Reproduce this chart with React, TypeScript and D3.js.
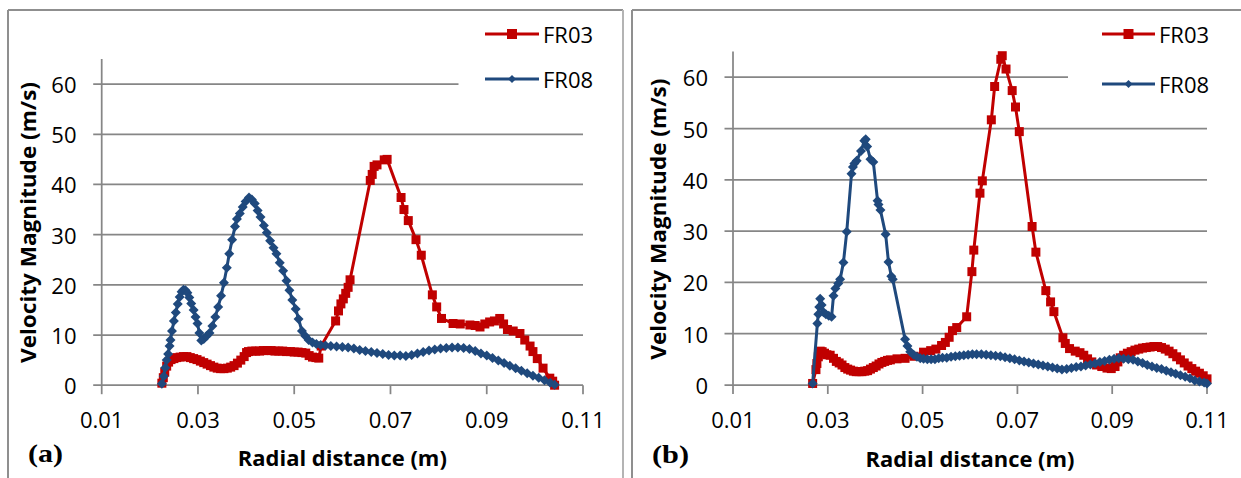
import React from "react";
import * as d3 from "d3";

// ---------- data ----------
const xTickValues = [0.01, 0.03, 0.05, 0.07, 0.09, 0.11];
const yTickValues = [0, 10, 20, 30, 40, 50, 60];
const seriesNames = ["FR03", "FR08"];
const panelLabels = ["(a)", "(b)"];

// Panel (a)
const aFR03: [number, number][] = [
  [0.0225, 0.4], [0.0228, 1.5], [0.0231, 2.6], [0.0235, 3.8], [0.0239, 4.6], [0.0244, 5.1], [0.025, 5.3],
  [0.0256, 5.5], [0.0263, 5.6], [0.027, 5.7], [0.0277, 5.7], [0.0284, 5.5], [0.0291, 5.3], [0.0298, 5.1],
  [0.0305, 4.8], [0.0312, 4.5], [0.0319, 4.2], [0.0326, 3.9], [0.0333, 3.6], [0.034, 3.4], [0.0347, 3.3],
  [0.0354, 3.3], [0.0361, 3.4], [0.0368, 3.6], [0.0375, 3.9], [0.0382, 4.4], [0.0389, 5.0], [0.0396, 5.7],
  [0.0401, 6.5], [0.0405, 6.7], [0.0412, 6.8], [0.042, 6.8], [0.0428, 6.8], [0.0436, 6.9], [0.0444, 6.9],
  [0.0452, 6.9], [0.046, 6.8], [0.0468, 6.8], [0.0476, 6.8], [0.0484, 6.7], [0.0492, 6.7], [0.05, 6.6],
  [0.0508, 6.6], [0.0516, 6.5], [0.0524, 6.4], [0.0531, 5.9], [0.0538, 5.6], [0.0545, 5.5], [0.0551, 5.4],
  [0.0556, 7.8], [0.0586, 12.8], [0.0592, 14.8], [0.0597, 16.2], [0.0602, 17.2], [0.0607, 18.3],
  [0.0612, 19.5], [0.0616, 21.0], [0.0658, 40.8], [0.0662, 42.0], [0.0666, 43.6], [0.0672, 43.9],
  [0.0687, 44.9], [0.0693, 45.0], [0.0722, 37.4], [0.0728, 35.0], [0.0737, 32.8], [0.0753, 29.0],
  [0.0764, 25.9], [0.0787, 18.0], [0.0796, 15.6], [0.0806, 13.3], [0.083, 12.3], [0.0845, 12.2],
  [0.0865, 12.0], [0.0876, 11.9], [0.0886, 11.6], [0.0896, 12.2], [0.0906, 12.6], [0.0916, 12.8],
  [0.0927, 13.3], [0.0935, 12.2], [0.0943, 11.1], [0.0955, 10.8], [0.0969, 10.3], [0.0979, 9.0],
  [0.099, 7.8], [0.0996, 6.7], [0.1005, 5.3], [0.1017, 3.4], [0.1031, 1.4], [0.1037, 0.8], [0.1041, 0.0],
];
const aFR08: [number, number][] = [
  [0.0225, 0.3], [0.0229, 1.8], [0.0232, 3.5], [0.0235, 5.0], [0.0238, 6.2], [0.0241, 7.8], [0.0243, 9.0],
  [0.0246, 10.8], [0.025, 12.8], [0.0254, 14.5], [0.0258, 16.2], [0.0262, 17.6], [0.0266, 18.6],
  [0.027, 19.0], [0.0274, 18.9], [0.0278, 18.4], [0.0282, 17.5], [0.0286, 16.3], [0.0291, 15.0],
  [0.0295, 13.6], [0.0299, 12.3], [0.0303, 10.4], [0.0307, 8.9], [0.0312, 9.2], [0.0318, 9.8],
  [0.0324, 10.4], [0.033, 11.8], [0.0336, 13.6], [0.0342, 15.6], [0.0348, 17.8], [0.0354, 20.4],
  [0.036, 23.4], [0.0365, 26.2], [0.0371, 29.0], [0.0377, 31.6], [0.0381, 33.1], [0.0387, 34.2],
  [0.0393, 35.5], [0.0399, 36.6], [0.0406, 37.4], [0.0412, 37.0], [0.0418, 36.2], [0.0424, 34.8],
  [0.043, 33.5], [0.0437, 31.8], [0.0443, 30.4], [0.045, 28.8], [0.0457, 27.4], [0.0463, 26.2],
  [0.047, 24.4], [0.0477, 22.8], [0.0484, 20.8], [0.049, 18.9], [0.0496, 17.0], [0.0503, 15.2],
  [0.0509, 13.2], [0.0516, 10.8], [0.0523, 9.8], [0.053, 9.0], [0.0538, 8.5], [0.0546, 8.2], [0.0555, 8.0],
  [0.0565, 7.9], [0.0576, 7.8], [0.0588, 7.7], [0.06, 7.6], [0.0612, 7.5], [0.0624, 7.3], [0.0636, 7.0],
  [0.0648, 6.8], [0.066, 6.6], [0.0672, 6.4], [0.0684, 6.2], [0.0696, 6.0], [0.0708, 5.9], [0.072, 5.9],
  [0.0732, 5.8], [0.0744, 6.0], [0.0756, 6.3], [0.0768, 6.6], [0.078, 6.9], [0.0792, 7.1], [0.0804, 7.3],
  [0.0816, 7.4], [0.0828, 7.5], [0.084, 7.5], [0.0852, 7.4], [0.0864, 7.2], [0.0876, 6.8], [0.0888, 6.3],
  [0.09, 5.9], [0.0912, 5.4], [0.0924, 4.9], [0.0936, 4.4], [0.0948, 3.9], [0.096, 3.4], [0.0972, 2.9],
  [0.0984, 2.4], [0.0996, 1.9], [0.1008, 1.5], [0.102, 1.0], [0.1032, 0.5], [0.1041, 0.1],
];

// Panel (b)
const bFR03: [number, number][] = [
  [0.0268, 0.3], [0.0275, 3.0], [0.0277, 4.2], [0.028, 5.5], [0.0284, 6.6], [0.0288, 6.5], [0.0293, 6.2],
  [0.0298, 5.9], [0.0305, 5.8], [0.0312, 5.2], [0.0318, 4.6], [0.0324, 4.3], [0.033, 3.9], [0.0336, 3.4],
  [0.0342, 3.1], [0.0348, 2.9], [0.0354, 2.7], [0.036, 2.6], [0.0366, 2.6], [0.0372, 2.6], [0.0378, 2.7],
  [0.0384, 2.8], [0.039, 3.1], [0.0396, 3.4], [0.0402, 3.7], [0.0408, 4.1], [0.0414, 4.4], [0.042, 4.6],
  [0.0426, 4.8], [0.0432, 4.9], [0.0446, 5.1], [0.0463, 5.2], [0.0482, 5.6], [0.0502, 6.4], [0.0517, 6.7],
  [0.0528, 7.0], [0.054, 7.7], [0.0548, 8.3], [0.0556, 9.3], [0.0563, 10.6], [0.0572, 11.2], [0.0593, 13.3],
  [0.0604, 22.1], [0.0608, 26.3], [0.0621, 37.4], [0.0626, 39.8], [0.0645, 51.7], [0.0652, 58.2],
  [0.0665, 63.5], [0.0668, 64.2], [0.0676, 61.6], [0.0689, 57.4], [0.0696, 54.2], [0.0704, 49.4],
  [0.0731, 30.9], [0.0739, 25.9], [0.076, 18.4], [0.077, 16.2], [0.0777, 14.3], [0.0796, 9.2], [0.0801, 8.1],
  [0.081, 7.1], [0.0822, 6.6], [0.0832, 6.3], [0.084, 5.8], [0.0848, 5.1], [0.0857, 4.5], [0.0867, 3.9],
  [0.0878, 3.6], [0.0889, 3.3], [0.0898, 3.2], [0.0906, 3.6], [0.0912, 4.5], [0.0917, 5.3], [0.0924, 5.8],
  [0.0932, 6.2], [0.094, 6.5], [0.0948, 6.8], [0.0956, 7.0], [0.0964, 7.2], [0.0972, 7.3], [0.098, 7.4],
  [0.0988, 7.5], [0.0996, 7.5], [0.1004, 7.3], [0.1012, 7.0], [0.102, 6.6], [0.1028, 6.1], [0.1036, 5.5],
  [0.1044, 4.9], [0.1052, 4.3], [0.106, 3.7], [0.1068, 3.2], [0.1076, 2.7], [0.1084, 2.3], [0.1092, 1.8],
  [0.11, 1.2],
];
const bFR08: [number, number][] = [
  [0.0268, 0.3], [0.0278, 12.0], [0.028, 13.8], [0.0282, 15.2], [0.0284, 16.8], [0.0287, 15.6],
  [0.0291, 14.2], [0.0296, 13.8], [0.0302, 13.5], [0.0308, 13.3], [0.0312, 17.4], [0.0316, 18.8],
  [0.0322, 19.8], [0.0326, 20.6], [0.0333, 23.9], [0.034, 29.9], [0.035, 41.2], [0.0353, 42.5],
  [0.0356, 43.2], [0.0361, 43.7], [0.037, 45.6], [0.0377, 47.6], [0.038, 47.9], [0.0383, 46.5],
  [0.039, 44.0], [0.0396, 43.5], [0.0405, 35.9], [0.0407, 35.2], [0.0411, 34.1], [0.0422, 29.4],
  [0.0428, 24.0], [0.0434, 21.2], [0.0437, 20.6], [0.0463, 8.9], [0.0468, 7.6], [0.0474, 6.5],
  [0.0481, 5.9], [0.0488, 5.5], [0.0495, 5.2], [0.0502, 5.1], [0.051, 5.0], [0.0518, 5.0], [0.0526, 5.0],
  [0.0534, 5.2], [0.0542, 5.3], [0.0551, 5.3], [0.056, 5.5], [0.0569, 5.6], [0.0578, 5.7], [0.0587, 5.8],
  [0.0596, 5.9], [0.0605, 6.0], [0.0614, 6.0], [0.0624, 6.0], [0.0634, 5.9], [0.0644, 5.8], [0.0654, 5.7],
  [0.0664, 5.6], [0.0674, 5.4], [0.0684, 5.2], [0.0694, 5.0], [0.0704, 4.8], [0.0714, 4.6], [0.0724, 4.4],
  [0.0734, 4.2], [0.0744, 4.0], [0.0754, 3.8], [0.0764, 3.6], [0.0774, 3.4], [0.0784, 3.2], [0.0794, 3.0],
  [0.0804, 3.1], [0.0814, 3.3], [0.0824, 3.5], [0.0834, 3.6], [0.0844, 3.8], [0.0854, 4.0], [0.0864, 4.2],
  [0.0874, 4.5], [0.0884, 4.7], [0.0894, 4.9], [0.0904, 5.1], [0.0914, 5.2], [0.0924, 5.1], [0.0934, 5.0],
  [0.0944, 4.9], [0.0954, 4.6], [0.0964, 4.3], [0.0974, 3.9], [0.0984, 3.6], [0.0994, 3.3], [0.1004, 3.1],
  [0.1014, 2.8], [0.1024, 2.5], [0.1034, 2.2], [0.1044, 1.9], [0.1054, 1.6], [0.1064, 1.3], [0.1074, 0.9],
  [0.1084, 0.7], [0.1094, 0.5], [0.11, 0.3],
];

// ---------- styling / layout ----------
const RED = "#C00000";
const BLUE = "#1F497D";
const GRID = "#868686";
const FONT = "'Open Sans', 'Noto Sans', sans-serif";
const SERIF = "'Liberation Serif', 'DejaVu Serif', serif";

type PanelCfg = {
  frameL: number; frameR: number; frameRColor: string;
  x0: number; x1: number; yTop: number; yBottom: number;
  coverX: number; legLine0: number; legLine1: number; legText: number; legY: [number, number];
  yTitleX: number; yTitleY: number; xTitleY: number; tickLabelRight: number;
  labelX: number; labelY: number; labelLen: number;
};

const panels: PanelCfg[] = [
  {
    frameL: 8, frameR: 623, frameRColor: "#b4b4b4",
    x0: 101.7, x1: 583, yTop: 59, yBottom: 385.2,
    coverX: 458.5, legLine0: 485, legLine1: 539, legText: 543, legY: [34, 79],
    yTitleX: 35.5, yTitleY: 222.5, xTitleY: 466, tickLabelRight: 76.5,
    labelX: 28, labelY: 462, labelLen: 35,
  },
  {
    frameL: 632, frameR: 1245, frameRColor: "#8f8f8f",
    x0: 733, x1: 1207, yTop: 51.6, yBottom: 385,
    coverX: 1068, legLine0: 1102, legLine1: 1155, legText: 1159, legY: [34, 84],
    yTitleX: 665.5, yTitleY: 219.2, xTitleY: 467, tickLabelRight: 708,
    labelX: 652, labelY: 463, labelLen: 37,
  },
];

const square = (cx: number, cy: number, s: number) =>
  `M${cx - s / 2},${cy - s / 2}h${s}v${s}h${-s}Z`;
const diamond = (cx: number, cy: number, r: number) =>
  `M${cx},${cy - r}L${cx + r},${cy}L${cx},${cy + r}L${cx - r},${cy}Z`;

function Panel({ cfg, red, blue, label }: { cfg: PanelCfg; red: [number, number][]; blue: [number, number][]; label: string }) {
  const x = d3.scaleLinear().domain([0.01, 0.11]).range([cfg.x0, cfg.x1]);
  const y = d3.scaleLinear().domain([0, 65]).range([cfg.yBottom, cfg.yTop]);
  const line = d3.line<[number, number]>().x((d) => x(d[0])).y((d) => y(d[1]));
  const legendCenter = (cfg.legLine0 + cfg.legLine1) / 2;
  return (
    <g>
      {/* frame */}
      <line x1={cfg.frameL} x2={cfg.frameL} y1={10} y2={480} stroke="#8f8f8f" strokeWidth={2} />
      <line x1={cfg.frameL} x2={cfg.frameR} y1={10} y2={10} stroke="#8f8f8f" strokeWidth={2} />
      <line x1={cfg.frameR} x2={cfg.frameR} y1={10} y2={480} stroke={cfg.frameRColor} strokeWidth={2} />
      {/* gridlines + y ticks */}
      {yTickValues.map((t) => (
        <g key={t}>
          <line x1={cfg.x0 - 8.5} x2={cfg.x1} y1={y(t)} y2={y(t)} stroke={GRID} strokeWidth={1.75} />
          <text x={cfg.tickLabelRight} y={y(t)} textAnchor="end" dominantBaseline="central"
            fontFamily={FONT} fontSize={22} fill="#000">{t}</text>
        </g>
      ))}
      {/* legend background covering the gridline */}
      <rect x={cfg.coverX} y={12} width={cfg.frameR - cfg.coverX - 2} height={92} fill="#fff" />
      {/* axes */}
      <line x1={cfg.x0} x2={cfg.x0} y1={y(65)} y2={y(0)} stroke={GRID} strokeWidth={1.75} />
      {xTickValues.map((t) => (
        <g key={t}>
          <line x1={x(t)} x2={x(t)} y1={y(0)} y2={y(0) + 9} stroke={GRID} strokeWidth={1.75} />
          <text x={x(t)} y={419} textAnchor="middle" dominantBaseline="central"
            fontFamily={FONT} fontSize={22} fill="#000">{t.toFixed(2)}</text>
        </g>
      ))}
      {/* series */}
      <path d={line(red) ?? ""} fill="none" stroke={RED} strokeWidth={3} strokeLinejoin="round" />
      {red.map((d, i) => (
        <path key={"r" + i} d={square(x(d[0]), y(d[1]), 9)} fill={RED} />
      ))}
      <path d={line(blue) ?? ""} fill="none" stroke={BLUE} strokeWidth={3} strokeLinejoin="round" />
      {blue.map((d, i) => (
        <path key={"b" + i} d={diamond(x(d[0]), y(d[1]), 5)} fill={BLUE} />
      ))}
      {/* legend */}
      <line x1={cfg.legLine0} x2={cfg.legLine1} y1={cfg.legY[0]} y2={cfg.legY[0]} stroke={RED} strokeWidth={3} />
      <path d={square(legendCenter, cfg.legY[0], 10)} fill={RED} />
      <text x={cfg.legText} y={cfg.legY[0]} dominantBaseline="central" fontFamily={FONT} fontSize={22}>{seriesNames[0]}</text>
      <line x1={cfg.legLine0} x2={cfg.legLine1} y1={cfg.legY[1]} y2={cfg.legY[1]} stroke={BLUE} strokeWidth={3} />
      <path d={diamond(legendCenter, cfg.legY[1], 4)} fill={BLUE} />
      <text x={cfg.legText} y={cfg.legY[1]} dominantBaseline="central" fontFamily={FONT} fontSize={22}>{seriesNames[1]}</text>
      {/* titles */}
      <text transform={`translate(${cfg.yTitleX},${cfg.yTitleY}) rotate(-90)`} textAnchor="middle"
        fontFamily={FONT} fontWeight="bold" fontSize={21} textLength={281} lengthAdjust="spacingAndGlyphs">
        Velocity Magnitude (m/s)
      </text>
      <text x={(cfg.x0 + cfg.x1) / 2} y={cfg.xTitleY} textAnchor="middle" fontFamily={FONT}
        fontWeight="bold" fontSize={21} textLength={209} lengthAdjust="spacingAndGlyphs">
        Radial distance (m)
      </text>
      <text x={cfg.labelX} y={cfg.labelY} fontFamily={SERIF} fontWeight="bold" fontSize={25}
        textLength={cfg.labelLen} lengthAdjust="spacingAndGlyphs">{label}</text>
    </g>
  );
}

export default function App() {
  return (
    <svg width={1241} height={478} style={{ position: "absolute", left: 0, top: 0, background: "#fff" }}>
      <rect x={0} y={0} width={1241} height={478} fill="#fff" />
      <Panel cfg={panels[0]} red={aFR03} blue={aFR08} label={panelLabels[0]} />
      <Panel cfg={panels[1]} red={bFR03} blue={bFR08} label={panelLabels[1]} />
    </svg>
  );
}
